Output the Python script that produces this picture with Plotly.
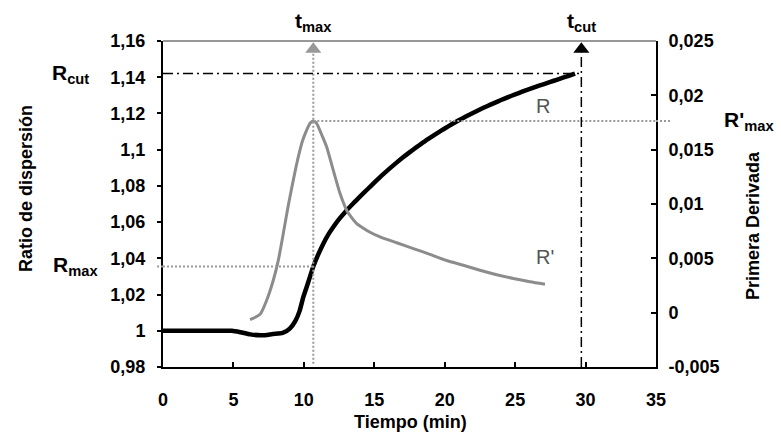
import numpy as np
import plotly.graph_objects as go

# ---------------- data ----------------
TIME_R = [0, 1, 2, 3, 4, 4.9, 5.5, 6.2, 7.0, 7.8, 8.5, 9.0, 9.4, 9.7, 9.96, 10.3,
          10.67, 11.0, 11.38, 11.7, 12.09, 12.5, 13.0, 13.5, 14.0, 14.5, 15.0, 15.5,
          16.0, 16.5, 17.0, 17.5, 18.0, 18.5, 19.0, 19.5, 20.0, 20.5, 21.0, 21.5,
          22.0, 22.5, 23.0, 23.5, 24.0, 24.5, 25.0, 25.5, 26.0, 26.5, 27.0, 27.5,
          28.0, 28.5, 29.0, 29.25]
RATIO = [1.0, 1.0, 1.0, 1.0, 1.0, 1.0, 0.9992, 0.998, 0.9975, 0.9982, 0.9988, 1.0012,
         1.0055, 1.011, 1.0186, 1.0265, 1.0355, 1.0418, 1.0481, 1.0527, 1.0573,
         1.0616, 1.0662, 1.0703, 1.0742, 1.0780, 1.0818, 1.0855, 1.0890, 1.0923,
         1.0955, 1.0985, 1.1014, 1.1042, 1.1068, 1.1093, 1.1117, 1.1140, 1.1162,
         1.1183, 1.1203, 1.1222, 1.1240, 1.1257, 1.1274, 1.1290, 1.1305, 1.1320,
         1.1334, 1.1348, 1.1361, 1.1374, 1.1387, 1.1400, 1.1413, 1.1420]

TIME_D = [6.18, 6.89, 7.36, 7.83, 8.19, 8.54, 8.9, 9.25, 9.58, 9.9, 10.2, 10.45,
          10.67, 10.85, 11.03, 11.29, 11.62, 12.09, 12.57, 13.04, 13.3, 13.75, 14.2,
          14.7, 15.41, 16.59, 17.77, 18.95, 20.14, 21.32, 22.5, 23.69, 24.87, 26.05,
          27.12]
DERIV = [-0.00064, -0.00015, 0.00114, 0.00298, 0.00484, 0.00728, 0.0099,
         0.0122, 0.0142, 0.0158, 0.0168, 0.01745, 0.01764, 0.01752, 0.0171, 0.0163,
         0.01525, 0.0131, 0.01096, 0.00942, 0.0089, 0.0082, 0.0078, 0.0074, 0.00697,
         0.00643, 0.0059, 0.00537, 0.0048, 0.00436, 0.0039, 0.00349, 0.00314,
         0.00284, 0.00261]

T_CUT = 29.7

X_TICKS = [0, 5, 10, 15, 20, 25, 30, 35]
X_TICKTEXT = ["0", "5", "10", "15", "20", "25", "30", "35"]
Y_TICKS = [0.98, 1.0, 1.02, 1.04, 1.06, 1.08, 1.10, 1.12, 1.14, 1.16]
Y_TICKTEXT = ["0,98", "1", "1,02", "1,04", "1,06", "1,08", "1,1", "1,12", "1,14", "1,16"]
Y2_TICKS = [-0.005, 0, 0.005, 0.01, 0.015, 0.02, 0.025]
Y2_TICKTEXT = ["-0,005", "0", "0,005", "0,01", "0,015", "0,02", "0,025"]

X_RANGE = [0, 35]
Y_RANGE = [0.98, 1.16]
Y2_RANGE = [-0.005, 0.025]

# derived guide values
i_max = int(np.argmax(DERIV))
T_MAX = TIME_D[i_max]
RP_MAX = DERIV[i_max]
R_MAX = float(np.interp(T_MAX, TIME_R, RATIO))
R_CUT = RATIO[-1]
ARROW_Y = 1.1555  # centre of the arrow heads, in left-axis units

FONT = "Liberation Sans, Arial, sans-serif"
GREY = "#999999"
DOT = "2px,2px"
DASHDOT = "10px,4px,2px,4px"

fig = go.Figure()
fig.add_trace(go.Scatter(x=TIME_R, y=RATIO, mode="lines",
                         line=dict(color="black", width=4.5, shape="spline", smoothing=0.6),
                         yaxis="y"))
fig.add_trace(go.Scatter(x=TIME_D, y=DERIV, mode="lines",
                         line=dict(color="#8c8c8c", width=3, shape="spline", smoothing=0.6),
                         yaxis="y2"))
# arrow heads
fig.add_trace(go.Scatter(x=[T_MAX], y=[ARROW_Y], mode="markers", yaxis="y", cliponaxis=False,
                         marker=dict(symbol="triangle-up", size=14, color=GREY)))
fig.add_trace(go.Scatter(x=[T_CUT], y=[ARROW_Y], mode="markers", yaxis="y", cliponaxis=False,
                         marker=dict(symbol="triangle-up", size=14, color="black")))

shapes = [
    # top frame line
    dict(type="line", xref="paper", yref="paper", x0=0, x1=1, y0=1, y1=1,
         line=dict(color="#333333", width=1.2)),
    # t_max vertical dotted
    dict(type="line", xref="x", yref="paper", x0=T_MAX, x1=T_MAX, y0=0.01, y1=0.965,
         line=dict(color=GREY, width=2, dash=DOT)),
    # R_max horizontal dotted
    dict(type="line", xref="x", yref="y", x0=X_RANGE[0], x1=T_MAX, y0=R_MAX, y1=R_MAX,
         line=dict(color=GREY, width=2, dash=DOT)),
    dict(type="line", xref="paper", yref="y", x0=-0.012, x1=0, y0=R_MAX, y1=R_MAX,
         line=dict(color=GREY, width=2, dash=DOT)),
    # R'_max horizontal dotted (right axis)
    dict(type="line", xref="x", yref="y2", x0=T_MAX, x1=X_RANGE[1], y0=RP_MAX, y1=RP_MAX,
         line=dict(color=GREY, width=2, dash=DOT)),
    dict(type="line", xref="paper", yref="y2", x0=1, x1=1.03, y0=RP_MAX, y1=RP_MAX,
         line=dict(color=GREY, width=2, dash=DOT)),
    # R_cut horizontal dash-dot
    dict(type="line", xref="x", yref="y", x0=X_RANGE[0], x1=T_CUT, y0=R_CUT, y1=R_CUT,
         line=dict(color="black", width=1.5, dash=DASHDOT)),
    # t_cut vertical dash-dot
    dict(type="line", xref="x", yref="paper", x0=T_CUT, x1=T_CUT, y0=0, y1=0.965,
         line=dict(color="black", width=1.5, dash=DASHDOT)),
]

big = dict(family=FONT, size=21, color="black", weight="bold")
title_font = dict(family=FONT, size=18, color="black", weight="bold")
annotations = [
    dict(text="R<sub>cut</sub>", xref="paper", yref="y", x=-0.146, y=R_CUT,
         xanchor="right", yanchor="middle", showarrow=False, font=big),
    dict(text="R<sub>max</sub>", xref="paper", yref="y", x=-0.128, y=R_MAX,
         xanchor="right", yanchor="middle", showarrow=False, font=big),
    dict(text="R'<sub>max</sub>", xref="paper", yref="y2", x=1.134, y=RP_MAX,
         xanchor="left", yanchor="middle", showarrow=False, font=big),
    dict(text="t<sub>max</sub>", xref="x", yref="paper", x=T_MAX, y=1.058,
         xanchor="center", yanchor="middle", showarrow=False, font=big),
    dict(text="t<sub>cut</sub>", xref="x", yref="paper", x=T_CUT, y=1.058,
         xanchor="center", yanchor="middle", showarrow=False, font=big),
    dict(text="R", xref="paper", yref="paper", x=0.771, y=0.80,
         xanchor="center", yanchor="middle", showarrow=False,
         font=dict(family=FONT, size=20, color="#555555")),
    dict(text="R'", xref="paper", yref="paper", x=0.775, y=0.337,
         xanchor="center", yanchor="middle", showarrow=False,
         font=dict(family=FONT, size=20, color="#555555")),
    # axis titles
    dict(text="Ratio de dispersión", xref="paper", yref="paper", x=-0.278, y=0.549,
         textangle=-90, xanchor="center", yanchor="middle", showarrow=False,
         font=title_font),
    dict(text="Primera Derivada", xref="paper", yref="paper", x=1.197, y=0.433,
         textangle=-90, xanchor="center", yanchor="middle", showarrow=False,
         font=title_font),
    dict(text="Tiempo (min)", xref="paper", yref="paper", x=0.503, y=-0.207,
         xanchor="center", yanchor="bottom", showarrow=False,
         font=title_font),
]

tickfont = dict(family=FONT, size=18, color="black", weight="bold")
fig.update_layout(
    width=781, height=436,
    margin=dict(l=163, r=125, t=41, b=69),
    plot_bgcolor="white", paper_bgcolor="white",
    showlegend=False,
    font=dict(family=FONT, color="black"),
    xaxis=dict(range=X_RANGE, tickvals=X_TICKS, ticktext=X_TICKTEXT,
               ticks="inside", ticklen=5, tickwidth=1.5, tickcolor="black",
               showline=True, linecolor="black", linewidth=2,
               showgrid=False, zeroline=False, tickfont=tickfont,
               ticklabelstandoff=15),
    yaxis=dict(range=Y_RANGE, tickvals=Y_TICKS, ticktext=Y_TICKTEXT,
               ticks="outside", ticklen=4, tickwidth=1.5, tickcolor="black",
               showline=True, linecolor="black", linewidth=2,
               showgrid=False, zeroline=False, tickfont=tickfont,
               ticklabelstandoff=8),
    yaxis2=dict(range=Y2_RANGE, tickvals=Y2_TICKS, ticktext=Y2_TICKTEXT,
                overlaying="y", side="right",
                ticks="inside", ticklen=5, tickwidth=1.5, tickcolor="black",
                showline=True, linecolor="black", linewidth=2,
                showgrid=False, zeroline=False, tickfont=tickfont,
                ticklabelstandoff=7),
    shapes=shapes,
    annotations=annotations,
)

fig.write_html("out.html")
